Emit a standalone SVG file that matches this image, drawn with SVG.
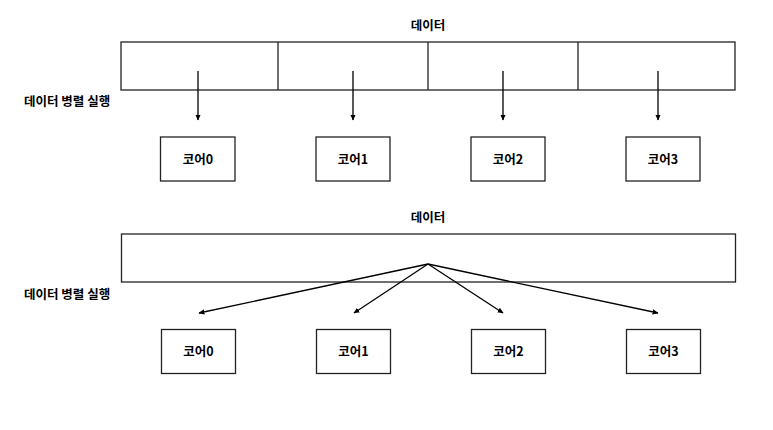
<svg xmlns="http://www.w3.org/2000/svg" width="773" height="430" viewBox="0 0 773 430">
<style>
.box{fill:#fff;stroke:#222;stroke-width:1.3}
.div{stroke:#222;stroke-width:1.3}
.t{font-family:"Noto Sans CJK KR","Liberation Sans",sans-serif;font-size:12.5px;font-weight:bold;fill:#000}
.c{text-anchor:middle}
.ln{stroke:#000;stroke-width:1.3;fill:none;marker-end:url(#ah)}
</style>
<defs>
<marker id="ah" viewBox="0 0 10 10" refX="9" refY="5" markerWidth="6" markerHeight="6" markerUnits="userSpaceOnUse" orient="auto">
<path d="M0,0.5 L10,5 L0,9.5 z" fill="#000"/>
</marker>
</defs>
<rect width="773" height="430" fill="#fff"/>
<g id="top-data">
<text class="t c" x="428" y="30">데이터</text>
<rect class="box" x="121" y="42" width="614" height="48"/>
<line class="div" x1="278" y1="42" x2="278" y2="90"/>
<line class="div" x1="428" y1="42" x2="428" y2="90"/>
<line class="div" x1="578" y1="42" x2="578" y2="90"/>
</g>
<g id="top-label"><text class="t" x="24" y="106">데이터 병렬 실행</text></g>
<g id="top-core0"><rect class="box" x="160.5" y="137" width="74.5" height="44"/><text class="t c" x="198" y="163.5">코어0</text></g>
<g id="top-core1"><rect class="box" x="316" y="137" width="74" height="44"/><text class="t c" x="353" y="163.5">코어1</text></g>
<g id="top-core2"><rect class="box" x="471" y="137" width="74" height="44"/><text class="t c" x="508" y="163.5">코어2</text></g>
<g id="top-core3"><rect class="box" x="626" y="137" width="74" height="44"/><text class="t c" x="663" y="163.5">코어3</text></g>
<g id="bottom-data">
<text class="t c" x="428" y="222">데이터</text>
<rect class="box" x="121.5" y="234" width="614" height="48"/>
</g>
<g id="bottom-label"><text class="t" x="24" y="299">데이터 병렬 실행</text></g>
<g id="bottom-core0"><rect class="box" x="161.5" y="329.5" width="74" height="44"/><text class="t c" x="198.5" y="356">코어0</text></g>
<g id="bottom-core1"><rect class="box" x="316.5" y="329.5" width="74" height="44"/><text class="t c" x="353.5" y="356">코어1</text></g>
<g id="bottom-core2"><rect class="box" x="471.5" y="329.5" width="74" height="44"/><text class="t c" x="508.5" y="356">코어2</text></g>
<g id="bottom-core3"><rect class="box" x="626.5" y="329.5" width="74" height="44"/><text class="t c" x="663.5" y="356">코어3</text></g>
<g id="connectors">
<line class="ln" x1="198" y1="71" x2="198" y2="120"/>
<line class="ln" x1="353" y1="71" x2="353" y2="120"/>
<line class="ln" x1="503" y1="71" x2="503" y2="120"/>
<line class="ln" x1="658" y1="71" x2="658" y2="120"/>
<line class="ln" x1="428" y1="264" x2="199" y2="313"/>
<line class="ln" x1="428" y1="264" x2="354" y2="313"/>
<line class="ln" x1="428" y1="264" x2="503" y2="313"/>
<line class="ln" x1="428" y1="264" x2="658" y2="313"/>
</g>
</svg>
